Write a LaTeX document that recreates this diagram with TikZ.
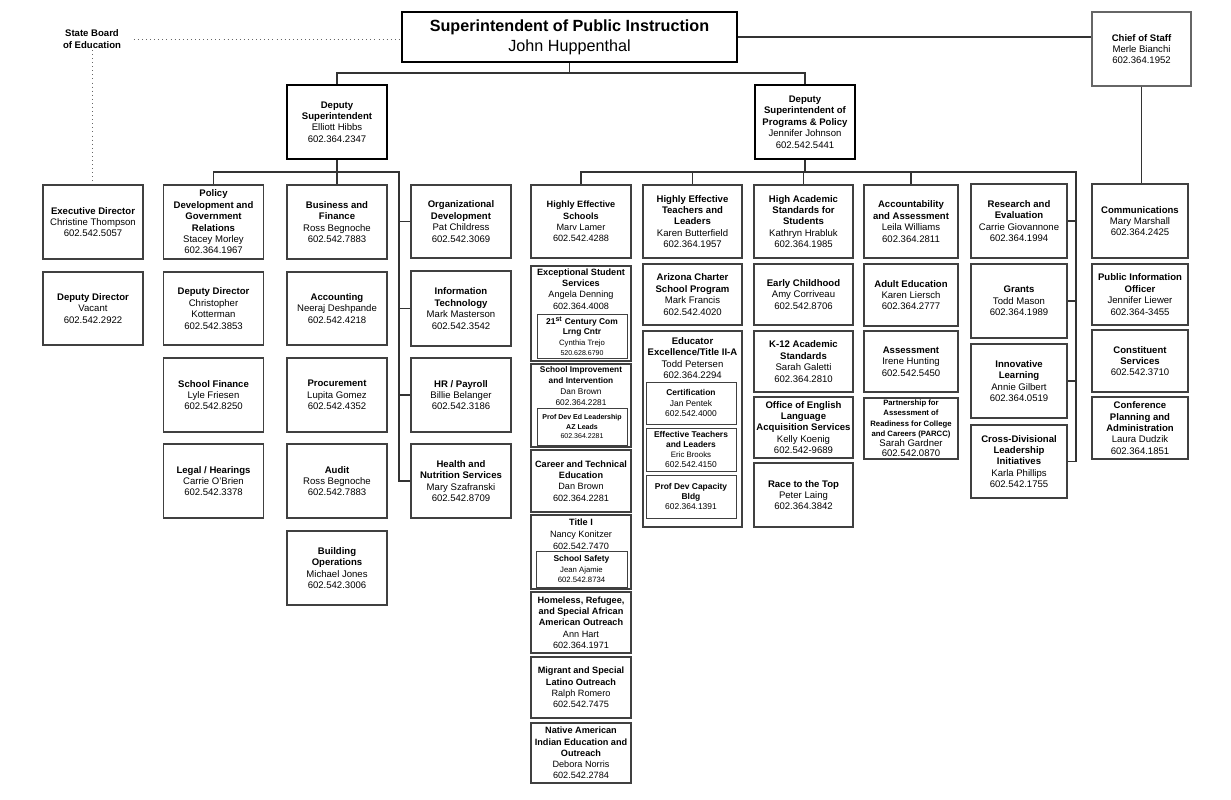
\documentclass[tikz,border=0pt]{standalone}
\usepackage{fontspec}
\setmainfont{Liberation Sans}

\begin{document}
\begin{tikzpicture}[
    x=0.025cm, y=-0.025cm,
    unit/.style={draw=black!75, line width=0.8pt, align=center, inner sep=1pt, minimum width=2.5cm, font=\fontsize{6.8}{8.1}\selectfont},
    deputy/.style={unit, draw=black, line width=2pt},
    subunit/.style={draw=black!75, line width=0.7pt, align=center, inner sep=0.5pt, minimum width=2.25cm, font=\fontsize{6}{7.2}\selectfont},
    unittext/.style={align=center, inner sep=0pt, font=\fontsize{6.5}{8}\selectfont},
    boxw/.style={minimum width=#1*0.025cm},
    boxh/.style={minimum height=#1*0.025cm},
    link/.style={draw=black!80, line width=0.8pt},
    board/.style={draw=black!60, line width=0.7pt, dash pattern=on 0.7pt off 2.2pt}
]
\useasboundingbox (0,0) rectangle (1231,800);

% Top level
\node[deputy, boxw=335, boxh=50, font=\fontsize{11.5}{14}\selectfont] (sup) at (569.5,37) {\textbf{Superintendent of Public Instruction}\\John Huppenthal};
\node[unit, draw=black!60, boxw=99, boxh=74] (cos) at (1141.5,49) {\textbf{Chief of Staff}\\Merle Bianchi\\602.364.1952};
\node[align=center, inner sep=1pt, font=\fontsize{6.8}{8.1}\selectfont\bfseries] (sbe) at (92,39) {State Board\\of Education};

% Deputies
\node[deputy, boxh=74] (dsup) at (337,122) {\textbf{Deputy}\\\textbf{Superintendent}\\Elliott Hibbs\\602.364.2347};
\node[deputy, boxh=74] (dspp) at (805,122) {\textbf{Deputy}\\\textbf{Superintendent of}\\\textbf{Programs \& Policy}\\Jennifer Johnson\\602.542.5441};

% Board column
\node[unit, boxh=74] (exec) at (93,222) {\textbf{Executive Director}\\Christine Thompson\\602.542.5057};
\node[unit, boxh=73] (depvac) at (93,308.5) {\textbf{Deputy Director}\\Vacant\\602.542.2922};

% Deputy Superintendent units
\node[unit, boxh=74] (policy) at (213.5,222) {\textbf{Policy}\\\textbf{Development and}\\\textbf{Government}\\\textbf{Relations}\\Stacey Morley\\602.364.1967};
\node[unit, boxh=73] (depdir) at (213.5,308.5) {\textbf{Deputy Director}\\Christopher\\Kotterman\\602.542.3853};
\node[unit, boxh=74] (schfin) at (213.5,395) {\textbf{School Finance}\\Lyle Friesen\\602.542.8250};
\node[unit, boxh=74] (legal) at (213.5,481) {\textbf{Legal / Hearings}\\Carrie O’Brien\\602.542.3378};

\node[unit, boxh=74] (busfin) at (337,222) {\textbf{Business and}\\\textbf{Finance}\\Ross Begnoche\\602.542.7883};
\node[unit, boxh=73] (acct) at (337,308.5) {\textbf{Accounting}\\Neeraj Deshpande\\602.542.4218};
\node[unit, boxh=74] (proc) at (337,395) {\textbf{Procurement}\\Lupita Gomez\\602.542.4352};
\node[unit, boxh=74] (audit) at (337,481) {\textbf{Audit}\\Ross Begnoche\\602.542.7883};
\node[unit, boxh=74] (bldg) at (337,568) {\textbf{Building}\\\textbf{Operations}\\Michael Jones\\602.542.3006};

\node[unit, boxh=73] (orgdev) at (461,221.5) {\textbf{Organizational}\\\textbf{Development}\\Pat Childress\\602.542.3069};
\node[unit, boxh=75] (infotech) at (461,308.5) {\textbf{Information}\\\textbf{Technology}\\Mark Masterson\\602.542.3542};
\node[unit, boxh=74] (hr) at (461,395) {\textbf{HR / Payroll}\\Billie Belanger\\602.542.3186};
\node[unit, boxh=74] (health) at (461,481) {\textbf{Health and}\\\textbf{Nutrition Services}\\Mary Szafranski\\602.542.8709};

% Programs & Policy units
\node[unit, boxh=73, font=\fontsize{6.5}{8}\selectfont] (hes) at (581,221.5) {\textbf{Highly Effective}\\\textbf{Schools}\\Marv Lamer\\602.542.4288};
\node[unit, boxh=95] (ess) at (581,313.5) {};
\node[unittext] (esstext) at (581,289) {\textbf{Exceptional Student}\\\textbf{Services}\\Angela Denning\\602.364.4008};
\node[subunit, boxw=90, boxh=44] (ccl) at (582,336) {\textbf{21\textsuperscript{st} Century Com}\\\textbf{Lrng Cntr}\\{\fontsize{5.5}{7}\selectfont Cynthia Trejo}\\{\fontsize{5}{7}\selectfont 520.628.6790}};
\node[unit, boxh=83] (sii) at (581,405.5) {};
\node[unittext, font=\fontsize{5.9}{8}\selectfont] (siitext) at (581,386) {\textbf{School Improvement}\\\textbf{and Intervention}\\Dan Brown\\602.364.2281};
\node[subunit, boxw=90, boxh=37, font=\fontsize{5}{7}\selectfont] (pdel) at (582,426.5) {\textbf{Prof Dev Ed Leadership}\\\textbf{AZ Leads}\\602.364.2281};
\node[unit, boxh=62, font=\fontsize{6.5}{8}\selectfont] (cte) at (581,481) {\textbf{Career and Technical}\\\textbf{Education}\\Dan Brown\\602.364.2281};
\node[unit, boxh=74] (title1) at (581,552) {};
\node[unittext, font=\fontsize{6.5}{8.6}\selectfont] (title1text) at (581,534) {\textbf{Title I}\\Nancy Konitzer\\602.542.7470};
\node[subunit, boxw=91, boxh=36] (safety) at (581.5,569) {\textbf{School Safety}\\{\fontsize{5.5}{7}\selectfont Jean Ajamie}\\{\fontsize{5.5}{7}\selectfont 602.542.8734}};
\node[unit, boxh=61, font=\fontsize{6.5}{8}\selectfont] (homeless) at (581,622.5) {\textbf{Homeless, Refugee,}\\\textbf{and Special African}\\\textbf{American Outreach}\\Ann Hart\\602.364.1971};
\node[unit, boxh=61, font=\fontsize{6.5}{8}\selectfont] (migrant) at (581,687.5) {\textbf{Migrant and Special}\\\textbf{Latino Outreach}\\Ralph Romero\\602.542.7475};
\node[unit, boxh=60, font=\fontsize{6.5}{8}\selectfont] (native) at (581,753) {\textbf{Native American}\\\textbf{Indian Education and}\\\textbf{Outreach}\\Debora Norris\\602.542.2784};

\node[unit, boxw=99, boxh=73] (het) at (692.5,221.5) {\textbf{Highly Effective}\\\textbf{Teachers and}\\\textbf{Leaders}\\Karen Butterfield\\602.364.1957};
\node[unit, boxw=99, boxh=61] (charter) at (692.5,294.5) {\textbf{Arizona Charter}\\\textbf{School Program}\\Mark Francis\\602.542.4020};
\node[unit, boxw=99, boxh=196] (educ) at (692.5,429) {};
\node[unittext, font=\fontsize{6.8}{8.1}\selectfont] (eductext) at (692.5,358) {\textbf{Educator}\\\textbf{Excellence/Title II-A}\\Todd Petersen\\602.364.2294};
\node[subunit, boxw=90, boxh=42] (cert) at (691,403) {\textbf{Certification}\\Jan Pentek\\602.542.4000};
\node[subunit, boxw=90, boxh=43] (etl) at (691,449.5) {\textbf{Effective Teachers}\\\textbf{and Leaders}\\{\fontsize{5.6}{7}\selectfont Eric Brooks}\\602.542.4150};
\node[subunit, boxw=90, boxh=43] (pdcb) at (691,496.5) {\textbf{Prof Dev Capacity}\\\textbf{Bldg}\\602.364.1391};

\node[unit, boxw=99, boxh=73] (has) at (803.5,221.5) {\textbf{High Academic}\\\textbf{Standards for}\\\textbf{Students}\\Kathryn Hrabluk\\602.364.1985};
\node[unit, boxw=99, boxh=61] (early) at (803.5,294.5) {\textbf{Early Childhood}\\Amy Corriveau\\602.542.8706};
\node[unit, boxw=99, boxh=61] (k12) at (803.5,361.5) {\textbf{K-12 Academic}\\\textbf{Standards}\\Sarah Galetti\\602.364.2810};
\node[unit, boxw=99, boxh=61] (oelas) at (803.5,427.5) {\textbf{Office of English}\\\textbf{Language}\\\textbf{Acquisition Services}\\Kelly Koenig\\602.542-9689};
\node[unit, boxw=99, boxh=64] (rttt) at (803.5,495) {\textbf{Race to the Top}\\Peter Laing\\602.364.3842};

\node[unit, boxw=94, boxh=73] (accass) at (911,221.5) {\textbf{Accountability}\\\textbf{and Assessment}\\Leila Williams\\602.364.2811};
\node[unit, boxw=94, boxh=62] (adult) at (911,295) {\textbf{Adult Education}\\Karen Liersch\\602.364.2777};
\node[unit, boxw=94, boxh=61] (assess) at (911,361.5) {\textbf{Assessment}\\Irene Hunting\\602.542.5450};
\node[unit, boxw=94, boxh=61, font=\fontsize{6.8}{7.3}\selectfont] (parcc) at (911,428.5) {{\fontsize{5.5}{7}\selectfont\textbf{Partnership for}}\\{\fontsize{5.5}{7}\selectfont\textbf{Assessment of}}\\{\fontsize{5.5}{7}\selectfont\textbf{Readiness for College}}\\{\fontsize{5.5}{7}\selectfont\textbf{and Careers (PARCC)}}\\Sarah Gardner\\602.542.0870};

\node[unit, boxw=96, boxh=74] (research) at (1019,221) {\textbf{Research and}\\\textbf{Evaluation}\\Carrie Giovannone\\602.364.1994};
\node[unit, boxw=96, boxh=74] (grants) at (1019,301) {\textbf{Grants}\\Todd Mason\\602.364.1989};
\node[unit, boxw=96, boxh=74] (innov) at (1019,381) {\textbf{Innovative}\\\textbf{Learning}\\Annie Gilbert\\602.364.0519};
\node[unit, boxw=96, boxh=73] (crossdiv) at (1019,461.5) {\textbf{Cross-Divisional}\\\textbf{Leadership}\\\textbf{Initiatives}\\Karla Phillips\\602.542.1755};

% Chief of Staff units
\node[unit, boxw=96, boxh=74] (comms) at (1140,221) {\textbf{Communications}\\Mary Marshall\\602.364.2425};
\node[unit, boxw=96, boxh=61] (pio) at (1140,294.5) {\textbf{Public Information}\\\textbf{Officer}\\Jennifer Liewer\\602.364-3455};
\node[unit, boxw=96, boxh=62] (constit) at (1140,361) {\textbf{Constituent}\\\textbf{Services}\\602.542.3710};
\node[unit, boxw=96, boxh=62] (conf) at (1140,428) {\textbf{Conference}\\\textbf{Planning and}\\\textbf{Administration}\\Laura Dudzik\\602.364.1851};

% Connectors
\coordinate (topbar) at (0,73);
\coordinate (spineL) at (399,172);
\coordinate (spineR) at (1076,172);

\draw[board, shorten <=0.28cm] (sbe.east) -- (sbe.east -| sup.west);
\draw[board] (sbe.south) -- (sbe.south |- exec.north);
\draw[link] (sup.east) -- (sup.east -| cos.west);
\draw[link] (cos.south) -- (cos.south |- comms.north);
\draw[link] (sup.south) -- (sup.south |- topbar);
\draw[link] (dsup.north) |- (topbar -| dspp.north) -- (dspp.north);

\draw[link] (dsup.south) -- (dsup.south |- spineL);
\draw[link] (policy.north) |- (spineL) -- (spineL |- health.west) -- (health.west);
\draw[link] (busfin.north) -- (busfin.north |- spineL);
\foreach \n in {orgdev,infotech,hr}
    \draw[link] (spineL |- \n.west) -- (\n.west);

\draw[link] (dspp.south) -- (dspp.south |- spineR);
\draw[link] (hes.north) |- (spineR) -- (spineR |- crossdiv.east) -- (crossdiv.east);
\foreach \n in {het,has,accass}
    \draw[link] (\n.north) -- (\n.north |- spineR);
\foreach \n in {research,grants,innov}
    \draw[link] (spineR |- \n.east) -- (\n.east);

\end{tikzpicture}
\end{document}
